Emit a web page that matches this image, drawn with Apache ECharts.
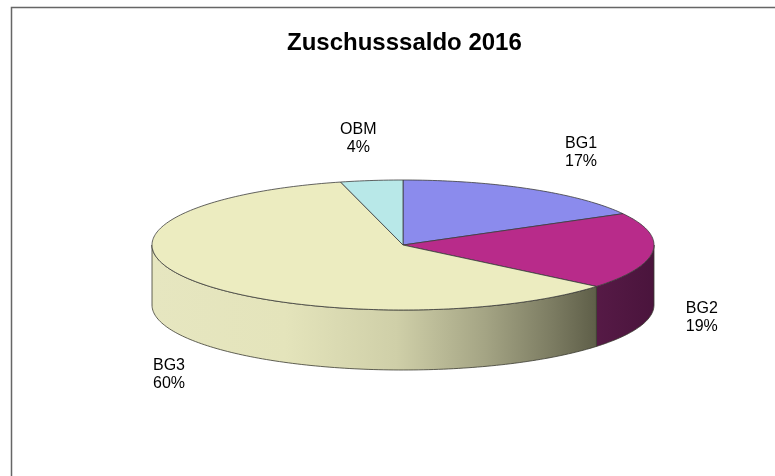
<!DOCTYPE html>
<html>
<head>
<meta charset="utf-8">
<title>Zuschusssaldo 2016</title>
<script src="https://cdn.jsdelivr.net/npm/echarts@6/dist/echarts.min.js"></script>
<style>
  html, body { margin: 0; padding: 0; background: #fff; }
  #main { width: 775px; height: 476px; }
</style>
</head>
<body>
<div id="main"></div>
<script>
// Daten
const categories = ['BG1', 'BG2', 'BG3', 'OBM']
const shares = [17, 19, 60, 4]
const chartTitle = 'Zuschusssaldo 2016'

// Farben (Deckfläche / Seitenwand)
const topColors = ['#8b8bed', '#b82b8a', '#ececc0', '#b8e8e8']
const sideColors = [
  ['#6c6cc0', '#4e4e96'],
  ['#561a46', '#4a143c'],
  ['#e8e8c2', '#5e5e48'],
  ['#9acaca', '#7aa8a8'],
]

// 3D-Torte: Mittelpunkt, Halbachsen, Höhe
const cx = 403
const cy = 245
const rx = 251
const ry = 65
const depth = 60

const total = shares.reduce((a, b) => a + b, 0)
const starts = []
let acc = 0
shares.forEach((v) => {
  starts.push(acc / total * Math.PI * 2)
  acc += v
})

function pt(a, dy) {
  // Winkel im Uhrzeigersinn ab 12 Uhr
  return [cx + rx * Math.sin(a), cy - ry * Math.cos(a) + (dy || 0)]
}

function arc(a0, a1, dy) {
  const n = Math.max(4, Math.ceil((a1 - a0) / 0.02))
  const pts = []
  for (let k = 0; k <= n; k++) pts.push(pt(a0 + (a1 - a0) * k / n, dy))
  return pts
}

function renderItem(params, api) {
  const i = params.dataIndex
  const v = api.value(0)
  const a0 = starts[i]
  const a1 = a0 + v / total * Math.PI * 2
  const mid = (a0 + a1) / 2
  const children = []

  // Seitenwand (nur vordere Hälfte sichtbar)
  const s = Math.max(a0, Math.PI / 2)
  const e = Math.min(a1, Math.PI * 1.5)
  if (s < e) {
    const pts = arc(s, e, 0).concat(arc(s, e, depth).reverse())
    let fill
    if (i === 2) {
      fill = {
        type: 'linear', x: 0, y: 0, x2: 1, y2: 0,
        colorStops: [
          { offset: 0, color: '#e6e6c0' },
          { offset: 0.3, color: '#e4e4bb' },
          { offset: 0.55, color: '#cfcfa8' },
          { offset: 0.75, color: '#a4a484' },
          { offset: 0.9, color: '#7c7c62' },
          { offset: 1, color: '#5e5e48' },
        ],
      }
    } else {
      fill = {
        type: 'linear', x: 0, y: 0, x2: 1, y2: 0,
        colorStops: [
          { offset: 0, color: sideColors[i][0] },
          { offset: 1, color: sideColors[i][1] },
        ],
      }
    }
    children.push({
      type: 'polygon',
      z2: 1,
      shape: { points: pts },
      style: { fill: fill, stroke: '#3a3a30', lineWidth: 0.8 },
    })
  }

  // Deckfläche
  children.push({
    type: 'polygon',
    z2: 5,
    shape: { points: [[cx, cy]].concat(arc(a0, a1, 0)) },
    style: { fill: topColors[i], stroke: '#3c3c3c', lineWidth: 0.8 },
  })

  // Beschriftung außerhalb
  const lower = Math.cos(mid) < 0
  const lx = cx + 305 * Math.sin(mid) + 26 * Math.sin(2 * mid)
  const ly = lower
    ? cy - (ry + 65) * Math.cos(mid) + depth
    : cy - (ry + 42) * Math.cos(mid)
  children.push({
    type: 'text',
    z2: 10,
    x: lx,
    y: ly,
    style: {
      text: categories[i] + '\n' + Math.round(v / total * 100) + '%',
      fill: '#000',
      fontSize: 16,
      fontFamily: 'Liberation Sans, Arial, sans-serif',
      lineHeight: 18,
      align: 'center',
      verticalAlign: 'middle',
    },
  })

  return { type: 'group', children: children }
}

const chart = echarts.init(document.getElementById('main'))
const option = {
  backgroundColor: '#ffffff',
  animation: false,
  title: {
    text: chartTitle,
    left: 282,
    top: 26,
    textStyle: {
      fontFamily: 'Liberation Sans, Arial, sans-serif',
      fontSize: 24,
      fontWeight: 'bold',
      color: '#000',
    },
  },
  graphic: [
    {
      type: 'rect',
      shape: { x: 11.5, y: 7.5, width: 800, height: 500 },
      style: { fill: 'none', stroke: '#666', lineWidth: 1.5 },
      silent: true,
    },
  ],
  series: [
    {
      type: 'custom',
      coordinateSystem: 'none',
      renderItem: renderItem,
      data: shares.map((v, i) => ({ name: categories[i], value: [v] })),
    },
  ],
}
chart.setOption(option)
</script>
</body>
</html>
